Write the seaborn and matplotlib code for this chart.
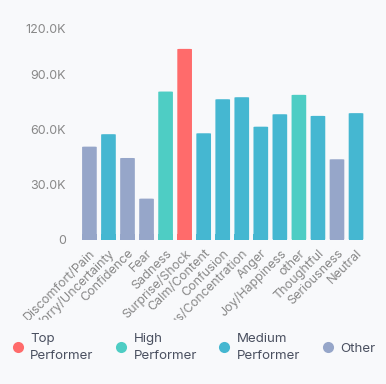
import matplotlib
matplotlib.use('Agg')
import matplotlib.pyplot as plt
import matplotlib.transforms as mtransforms
import seaborn as sns
import pandas as pd
from matplotlib.patches import FancyBboxPatch
from matplotlib.lines import Line2D
from matplotlib.ticker import FuncFormatter

# Data
emotions = ['Discomfort/Pain', 'Worry/Uncertainty', 'Confidence', 'Fear', 'Sadness',
            'Surprise/Shock', 'Calm/Content', 'Confusion', 'Focus/Concentration', 'Anger',
            'Joy/Happiness', 'other', 'Thoughtful', 'Seriousness', 'Neutral']
counts = [50800, 57600, 44600, 22400, 80900, 104200, 58100, 76700, 77800, 61700,
          68500, 79100, 67600, 43900, 69100]
tiers = ['Other', 'Medium Performer', 'Other', 'Other', 'High Performer',
         'Top Performer', 'Medium Performer', 'Medium Performer', 'Medium Performer',
         'Medium Performer', 'Medium Performer', 'High Performer', 'Medium Performer',
         'Other', 'Medium Performer']

tier_order = ['Top Performer', 'High Performer', 'Medium Performer', 'Other']
tier_colors = {'Top Performer': '#FF6B6B', 'High Performer': '#4ECDC4',
               'Medium Performer': '#45B7D1', 'Other': '#96A6C9'}

df = pd.DataFrame({'emotion': emotions, 'count': counts, 'tier': tiers})

bg = '#F8F9FB'
sns.set_style('white')
plt.rcParams['font.family'] = ['Inter', 'DejaVu Sans']

fig = plt.figure(figsize=(3.86, 3.84), dpi=100, facecolor=bg)
ax = fig.add_axes([0.207, 0.376, 0.740, 0.572], facecolor=bg)

sns.barplot(data=df, x='emotion', y='count', hue='emotion',
            palette=[tier_colors[t] for t in tiers], width=0.77,
            legend=False, ax=ax, saturation=1)

# round the top corners of the bars
for p in list(ax.patches):
    x, y = p.get_x(), p.get_y()
    w, h = p.get_width(), p.get_height()
    fc = p.get_facecolor()
    p.remove()
    ax.add_patch(FancyBboxPatch((x, y), w, h, boxstyle='round,pad=0,rounding_size=0.12',
                                mutation_aspect=1800, facecolor=fc, edgecolor='none'))
    ax.add_patch(plt.Rectangle((x, y), w, min(h, 3000), facecolor=fc, edgecolor='none'))

ax.set_xlim(-0.5, len(emotions) - 0.5)
ax.set_ylim(0, 120000)
ax.set_yticks([0, 30000, 60000, 90000, 120000])
ax.yaxis.set_major_formatter(FuncFormatter(lambda v, _: '0' if v == 0 else f'{v/1000:.1f}K'))
ax.set_xlabel('')
ax.set_ylabel('')
sns.despine(ax=ax, left=True, bottom=True)
ax.tick_params(axis='y', length=0, pad=10, labelsize=9, labelcolor='#888888')
ax.tick_params(axis='x', length=0, pad=5.5, labelsize=9, labelcolor='#888888')
plt.setp(ax.get_xticklabels(), rotation=45, ha='right', va='top', rotation_mode='anchor')

# long category labels get cut off above the legend, as in the reference
clip = mtransforms.TransformedBbox(mtransforms.Bbox([[0, 64 / 384], [1, 1]]), fig.transFigure)
for lbl in ax.get_xticklabels():
    lbl.set_clip_on(True)
    lbl.set_clip_box(clip)

# the top tick label sits a little lower in the reference
top_lbl = ax.get_yticklabels()[-1]
top_lbl.set_transform(top_lbl.get_transform() +
                      mtransforms.ScaledTranslation(0, -9 / 100, fig.dpi_scale_trans))

handles = [Line2D([0], [0], marker='o', linestyle='', markersize=8,
                  markerfacecolor=tier_colors[t], markeredgecolor='none') for t in tier_order]
labels = ['Top\nPerformer', 'High\nPerformer', 'Medium\nPerformer', 'Other']
leg = fig.legend(handles, labels, loc='center left', bbox_to_anchor=(-0.003, 0.095), ncol=4,
                 frameon=False, fontsize=9.6, labelcolor='#4A5060', handletextpad=0.45,
                 columnspacing=1.55, handlelength=1)
for t in leg.get_texts():
    t.set_linespacing(1.55)

fig.savefig('out.png', dpi=100, facecolor=bg)
